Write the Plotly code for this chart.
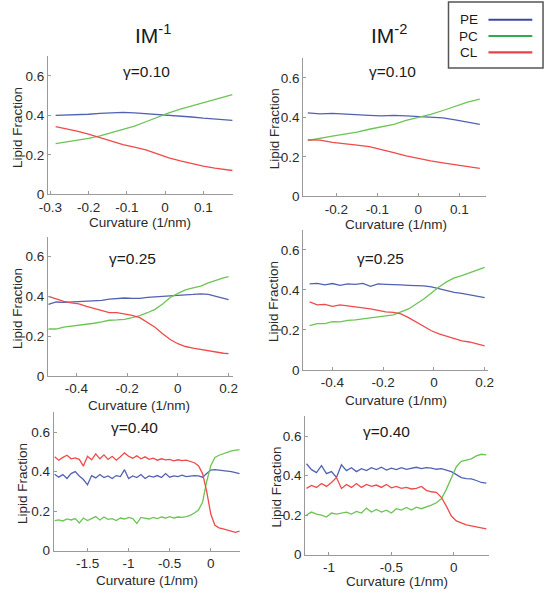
import plotly.graph_objects as go

# ---------------- data ----------------
SERIES = ["PE", "PC", "CL"]
COLORS = {"PE": "#5262b2", "PC": "#6cc455", "CL": "#f04a4a"}
LEGEND_COLORS = {"PE": "#3f47a0", "PC": "#33aa4f", "CL": "#e8404c"}

# Panel A: IM-1, gamma=0.10
xA = [-0.286, -0.26, -0.23, -0.2, -0.17, -0.14, -0.11, -0.08, -0.05, -0.02, 0.01, 0.04, 0.07, 0.10, 0.13, 0.16, 0.176]
peA = [0.400, 0.401, 0.403, 0.406, 0.410, 0.414, 0.416, 0.413, 0.409, 0.406, 0.403, 0.398, 0.392, 0.386, 0.381, 0.377, 0.375]
pcA = [0.257, 0.265, 0.274, 0.284, 0.297, 0.313, 0.330, 0.346, 0.368, 0.392, 0.413, 0.432, 0.448, 0.465, 0.482, 0.498, 0.506]
clA = [0.343, 0.333, 0.320, 0.305, 0.288, 0.270, 0.252, 0.240, 0.226, 0.205, 0.185, 0.170, 0.156, 0.143, 0.133, 0.124, 0.121]

# Panel B: IM-2, gamma=0.10
xB = [-0.27, -0.24, -0.21, -0.18, -0.15, -0.12, -0.09, -0.06, -0.03, 0.0, 0.03, 0.06, 0.09, 0.12, 0.15]
peB = [0.423, 0.418, 0.420, 0.416, 0.414, 0.410, 0.408, 0.410, 0.408, 0.405, 0.403, 0.398, 0.388, 0.375, 0.365]
pcB = [0.283, 0.295, 0.305, 0.315, 0.325, 0.340, 0.353, 0.365, 0.385, 0.400, 0.415, 0.435, 0.458, 0.478, 0.493]
clB = [0.286, 0.285, 0.273, 0.268, 0.260, 0.252, 0.238, 0.222, 0.205, 0.192, 0.180, 0.170, 0.160, 0.152, 0.142]

# Panel C: IM-1, gamma=0.25
xC = [-0.51, -0.48, -0.45, -0.42, -0.39, -0.36, -0.33, -0.30, -0.27, -0.24, -0.21, -0.18, -0.15, -0.12, -0.09, -0.06, -0.03, 0.0, 0.03, 0.06, 0.09, 0.12, 0.15, 0.18, 0.20]
peC = [0.360, 0.372, 0.370, 0.372, 0.374, 0.378, 0.378, 0.380, 0.386, 0.390, 0.392, 0.390, 0.390, 0.395, 0.398, 0.400, 0.405, 0.406, 0.408, 0.410, 0.413, 0.410, 0.400, 0.390, 0.384]
pcC = [0.236, 0.236, 0.245, 0.250, 0.255, 0.258, 0.265, 0.272, 0.280, 0.282, 0.285, 0.293, 0.303, 0.318, 0.335, 0.362, 0.395, 0.415, 0.433, 0.443, 0.452, 0.468, 0.482, 0.493, 0.500]
clC = [0.400, 0.386, 0.375, 0.367, 0.362, 0.350, 0.340, 0.328, 0.318, 0.318, 0.313, 0.305, 0.293, 0.270, 0.245, 0.212, 0.183, 0.162, 0.148, 0.140, 0.133, 0.125, 0.118, 0.114, 0.112]

# Panel D: IM-2, gamma=0.25
xD = [-0.49, -0.46, -0.43, -0.40, -0.37, -0.34, -0.31, -0.28, -0.25, -0.22, -0.19, -0.16, -0.13, -0.10, -0.07, -0.04, -0.01, 0.02, 0.05, 0.08, 0.11, 0.14, 0.17, 0.20]
peD = [0.430, 0.433, 0.425, 0.432, 0.423, 0.430, 0.428, 0.433, 0.418, 0.430, 0.428, 0.425, 0.425, 0.423, 0.422, 0.420, 0.415, 0.405, 0.395, 0.388, 0.383, 0.375, 0.368, 0.362]
pcD = [0.222, 0.232, 0.232, 0.242, 0.240, 0.248, 0.250, 0.255, 0.260, 0.265, 0.268, 0.275, 0.290, 0.305, 0.330, 0.355, 0.385, 0.415, 0.440, 0.460, 0.472, 0.485, 0.500, 0.513]
clD = [0.340, 0.325, 0.328, 0.318, 0.325, 0.320, 0.318, 0.310, 0.305, 0.298, 0.290, 0.288, 0.280, 0.262, 0.240, 0.218, 0.196, 0.180, 0.168, 0.155, 0.145, 0.140, 0.130, 0.120]

# Panel E: IM-1, gamma=0.40
xE = [-1.90, -1.85, -1.80, -1.75, -1.70, -1.65, -1.60, -1.55, -1.50, -1.45, -1.40, -1.35, -1.30, -1.25, -1.20, -1.15,
      -1.10, -1.05, -1.00, -0.95, -0.90, -0.85, -0.80, -0.75, -0.70, -0.65, -0.60, -0.55, -0.50, -0.45, -0.40, -0.35,
      -0.30, -0.25, -0.20, -0.15, -0.10, -0.05, 0.00, 0.05, 0.10, 0.15, 0.20, 0.25, 0.30, 0.35]
peE = [0.387, 0.372, 0.385, 0.365, 0.390, 0.400, 0.378, 0.360, 0.333, 0.380, 0.368, 0.385, 0.370, 0.378, 0.365, 0.380,
       0.375, 0.410, 0.365, 0.378, 0.370, 0.385, 0.365, 0.378, 0.372, 0.380, 0.370, 0.390, 0.372, 0.378, 0.375, 0.382,
       0.375, 0.378, 0.380, 0.378, 0.372, 0.390, 0.408, 0.410, 0.408, 0.405, 0.405, 0.400, 0.395, 0.390]
pcE = [0.152, 0.155, 0.150, 0.160, 0.155, 0.162, 0.140, 0.165, 0.152, 0.160, 0.172, 0.155, 0.170, 0.158, 0.162, 0.152,
       0.165, 0.160, 0.168, 0.162, 0.137, 0.168, 0.165, 0.160, 0.168, 0.162, 0.170, 0.165, 0.172, 0.165, 0.170, 0.168,
       0.172, 0.178, 0.190, 0.205, 0.245, 0.350, 0.430, 0.472, 0.483, 0.492, 0.498, 0.505, 0.510, 0.512]
clE = [0.475, 0.458, 0.472, 0.483, 0.465, 0.470, 0.462, 0.428, 0.478, 0.460, 0.490, 0.465, 0.485, 0.462, 0.478, 0.458,
       0.475, 0.495, 0.478, 0.468, 0.480, 0.465, 0.475, 0.462, 0.468, 0.458, 0.465, 0.460, 0.462, 0.455, 0.460, 0.456,
       0.458, 0.452, 0.445, 0.430, 0.390, 0.300, 0.185, 0.128, 0.115, 0.110, 0.105, 0.098, 0.092, 0.098]

# Panel F: IM-2, gamma=0.40
xF = [-1.18, -1.14, -1.10, -1.06, -1.02, -0.98, -0.94, -0.90, -0.86, -0.82, -0.78, -0.74, -0.70, -0.66, -0.62, -0.58,
      -0.54, -0.50, -0.46, -0.42, -0.38, -0.34, -0.30, -0.26, -0.22, -0.18, -0.14, -0.10, -0.06, -0.02, 0.02, 0.06,
      0.10, 0.14, 0.18, 0.22, 0.26]
peF = [0.460, 0.430, 0.415, 0.450, 0.410, 0.420, 0.390, 0.455, 0.425, 0.440, 0.420, 0.435, 0.425, 0.440, 0.430, 0.442,
       0.428, 0.438, 0.430, 0.440, 0.432, 0.438, 0.442, 0.435, 0.440, 0.438, 0.432, 0.435, 0.428, 0.420, 0.405, 0.390,
       0.385, 0.383, 0.375, 0.365, 0.362]
pcF = [0.200, 0.215, 0.205, 0.200, 0.190, 0.210, 0.205, 0.210, 0.215, 0.205, 0.218, 0.210, 0.235, 0.215, 0.228, 0.215,
       0.225, 0.210, 0.232, 0.225, 0.238, 0.225, 0.240, 0.232, 0.240, 0.250, 0.262, 0.282, 0.330, 0.390, 0.445, 0.472,
       0.480, 0.485, 0.500, 0.508, 0.505]
clF = [0.335, 0.350, 0.340, 0.360, 0.345, 0.365, 0.390, 0.335, 0.355, 0.340, 0.360, 0.340, 0.355, 0.345, 0.352, 0.340,
       0.355, 0.338, 0.345, 0.335, 0.340, 0.332, 0.335, 0.345, 0.325, 0.318, 0.315, 0.290, 0.245, 0.195, 0.170, 0.158,
       0.150, 0.145, 0.140, 0.135, 0.130]

PANEL_TITLES = ["γ=0.10", "γ=0.10", "γ=0.25", "γ=0.25", "γ=0.40", "γ=0.40"]
COLUMN_TITLES = ["IM<sup>-1</sup>", "IM<sup>-2</sup>"]
X_TITLE = "Curvature (1/nm)"
Y_TITLE = "Lipid Fraction"

Y_TICKS = [0, 0.2, 0.4, 0.6]
Y_TICK_TEXT = ["0", "0.2", "0.4", "0.6"]
X_TICKS = {
    "A": ([-0.3, -0.2, -0.1, 0, 0.1], ["-0.3", "-0.2", "-0.1", "0", "0.1"]),
    "B": ([-0.2, -0.1, 0, 0.1], ["-0.2", "-0.1", "0", "0.1"]),
    "C": ([-0.4, -0.2, 0, 0.2], ["-0.4", "-0.2", "0", "0.2"]),
    "D": ([-0.4, -0.2, 0, 0.2], ["-0.4", "-0.2", "0", "0.2"]),
    "E": ([-1.5, -1, -0.5, 0], ["-1.5", "-1", "-0.5", "0"]),
    "F": ([-1, -0.5, 0], ["-1", "-0.5", "0"]),
}
X_RANGES = {"A": [-0.306, 0.178], "B": [-0.281, 0.164], "C": [-0.512, 0.218],
            "D": [-0.515, 0.215], "E": [-1.91, 0.355], "F": [-1.19, 0.285]}
Y_RANGE = [0, 0.7]

DATA = {
    "A": (xA, {"PE": peA, "PC": pcA, "CL": clA}),
    "B": (xB, {"PE": peB, "PC": pcB, "CL": clB}),
    "C": (xC, {"PE": peC, "PC": pcC, "CL": clC}),
    "D": (xD, {"PE": peD, "PC": pcD, "CL": clD}),
    "E": (xE, {"PE": peE, "PC": pcE, "CL": clE}),
    "F": (xF, {"PE": peF, "PC": pcF, "CL": clF}),
}

# ---------------- layout (pixel geometry) ----------------
W, H = 549, 600
# axes boxes in pixels: left, right, top, bottom
BOX = {
    "A": (40, 230, 57, 197),
    "B": (302, 489, 59, 199),
    "C": (40, 230, 240, 381),
    "D": (302, 492, 233, 375),
    "E": (46, 237, 418, 558),
    "F": (304, 493, 422, 562),
}
TITLE_POS = {"A": (141, 72), "B": (394, 72), "C": (127, 262), "D": (381, 262), "E": (129, 433), "F": (387, 437)}
XLAB_POS = {"A": (134, 226), "B": (397, 228), "C": (133, 411), "D": (397, 406), "E": (142, 588), "F": (398, 589)}
YLAB_X = {"A": 9, "B": 272, "C": 9, "D": 272, "E": 14, "F": 274}

FONT = "Liberation Sans, Arial, Helvetica, sans-serif"
TXT = "#2b2b2b"
AXC = "#9a9a9a"

def px(x):
    return x / W

def py(y):
    return 1 - y / H

fig = go.Figure()
layout = dict(
    width=W, height=H, margin=dict(l=0, r=0, t=0, b=0),
    paper_bgcolor="white", plot_bgcolor="white", showlegend=False,
    font=dict(family=FONT, color=TXT, size=13),
)
annotations = []
shapes = []

for i, key in enumerate(["A", "B", "C", "D", "E", "F"]):
    n = "" if i == 0 else str(i + 1)
    xa, ya = "x" + n, "y" + n
    l, r, t, b = BOX[key]
    xs, ser = DATA[key]
    for s in SERIES:
        fig.add_trace(go.Scatter(x=xs, y=ser[s], mode="lines", name=s, xaxis=xa, yaxis=ya,
                                 line=dict(color=COLORS[s], width=1.3), hoverinfo="skip"))
    tv, tt = X_TICKS[key]
    layout["xaxis" + n] = dict(
        domain=[px(l), px(r)], anchor=ya, range=X_RANGES[key], showgrid=False, zeroline=False,
        showline=True, linecolor=AXC, linewidth=1, ticks="inside", ticklen=3, tickcolor=AXC,
        tickvals=tv, ticktext=tt, tickfont=dict(size=13.5, color=TXT, family=FONT),
    )
    layout["yaxis" + n] = dict(
        domain=[py(b), py(t)], anchor=xa, range=Y_RANGE, showgrid=False, zeroline=False,
        showline=True, linecolor=AXC, linewidth=1, ticks="inside", ticklen=3, tickcolor=AXC,
        tickvals=Y_TICKS, ticktext=Y_TICK_TEXT, tickfont=dict(size=13.5, color=TXT, family=FONT),
    )
    tx, ty = TITLE_POS[key]
    annotations.append(dict(text=PANEL_TITLES[i], x=px(tx), y=py(ty), xref="paper", yref="paper",
                            showarrow=False, xanchor="center", yanchor="middle",
                            font=dict(size=15.5, color="#1a1a1a", family=FONT)))
    lx, ly = XLAB_POS[key]
    annotations.append(dict(text=X_TITLE, x=px(lx), y=py(ly), xref="paper", yref="paper",
                            showarrow=False, xanchor="center", yanchor="middle",
                            font=dict(size=13.5, color=TXT, family=FONT)))
    annotations.append(dict(text=Y_TITLE, x=px(YLAB_X[key]), y=py((t + b) / 2 + 2), xref="paper", yref="paper",
                            showarrow=False, xanchor="center", yanchor="middle", textangle=-90,
                            font=dict(size=13.5, color=TXT, family=FONT)))

# column titles
for txt, cx in zip(COLUMN_TITLES, [148, 390]):
    annotations.append(dict(text=txt, x=px(cx), y=py(34), xref="paper", yref="paper",
                            showarrow=False, xanchor="center", yanchor="middle",
                            font=dict(size=21, color="#1a1a1a", family=FONT)))

# legend box (drawn manually: text to the left of the line sample)
shapes.append(dict(type="rect", xref="paper", yref="paper", x0=px(451), x1=px(548), y0=py(2), y1=py(69),
                   line=dict(color="#555555", width=1.5), fillcolor="white", layer="above"))
for j, s in enumerate(SERIES):
    yy = 20 + j * 16.5
    annotations.append(dict(text=s, x=px(472), y=py(yy), xref="paper", yref="paper", showarrow=False,
                            xanchor="center", yanchor="middle", font=dict(size=13.5, color="#1a1a1a", family=FONT)))
    shapes.append(dict(type="line", xref="paper", yref="paper", x0=px(492), x1=px(537), y0=py(yy), y1=py(yy),
                       line=dict(color=LEGEND_COLORS[s], width=2.2), layer="above"))

layout["annotations"] = annotations
layout["shapes"] = shapes
fig.update_layout(**layout)

fig.write_html("out.html", config={"displayModeBar": False},
               post_script="document.body.style.margin='0';")
